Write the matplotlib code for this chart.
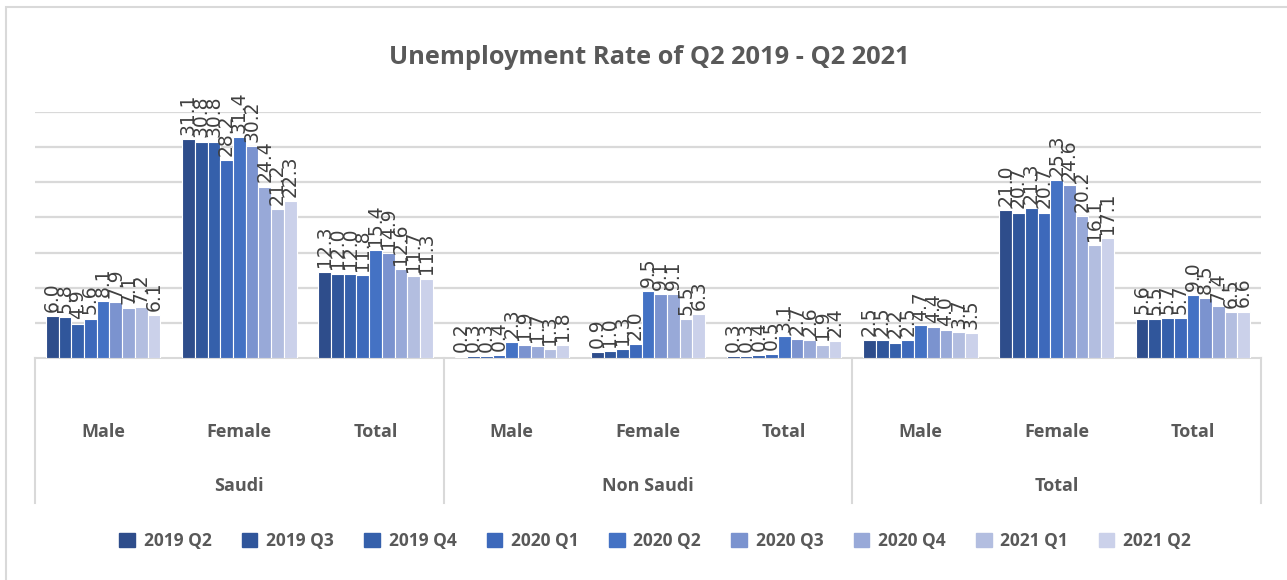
import matplotlib
matplotlib.use("Agg")
import matplotlib.pyplot as plt
from matplotlib.patches import Rectangle
import numpy as np

title = "Unemployment Rate of Q2 2019 - Q2 2021"
groups = ["Saudi", "Non Saudi", "Total"]
subcats = ["Male", "Female", "Total"]
series = ["2019 Q2", "2019 Q3", "2019 Q4", "2020 Q1", "2020 Q2",
          "2020 Q3", "2020 Q4", "2021 Q1", "2021 Q2"]
colors = ["#2E4D8B", "#30569B", "#3560AB", "#3D69BB", "#4472C4",
          "#7B93CF", "#98A9D8", "#B3BEE0", "#CBD1EA"]

# values per category (Saudi M/F/T, Non Saudi M/F/T, Total M/F/T), per series
saudi_male = [6.0, 5.8, 4.9, 5.6, 8.1, 7.9, 7.1, 7.2, 6.1]
saudi_female = [31.1, 30.8, 30.8, 28.2, 31.4, 30.2, 24.4, 21.2, 22.3]
saudi_total = [12.3, 12.0, 12.0, 11.8, 15.4, 14.9, 12.6, 11.7, 11.3]
nonsaudi_male = [0.2, 0.3, 0.3, 0.4, 2.3, 1.9, 1.7, 1.3, 1.8]
nonsaudi_female = [0.9, 1.0, 1.3, 2.0, 9.5, 9.1, 9.1, 5.5, 6.3]
nonsaudi_total = [0.3, 0.3, 0.4, 0.5, 3.1, 2.7, 2.6, 1.9, 2.4]
total_male = [2.5, 2.5, 2.2, 2.5, 4.7, 4.4, 4.0, 3.7, 3.5]
total_female = [21.0, 20.7, 21.3, 20.7, 25.3, 24.6, 20.2, 16.1, 17.1]
total_total = [5.6, 5.5, 5.7, 5.7, 9.0, 8.5, 7.4, 6.5, 6.6]

table = np.array([saudi_male, saudi_female, saudi_total,
                  nonsaudi_male, nonsaudi_female, nonsaudi_total,
                  total_male, total_female, total_total])

W, H = 1287, 580
fig = plt.figure(figsize=(W / 100, H / 100), dpi=100)
fig.patch.set_facecolor("white")

# chart border
fig.patches.append(Rectangle((6 / W, -0.02), 1.1, 1 - 7 / H + 0.02,
                             transform=fig.transFigure, fill=False,
                             edgecolor="#D9D9D9", lw=1.5))

left, right = 35 / W, 1261 / W
bottom, top = 1 - 358 / H, 1 - 112 / H
ax = fig.add_axes([left, bottom, right - left, top - bottom])
ax.set_xlim(-0.5, 8.5)
ax.set_ylim(0, 35)
for s in ["top", "right", "left"]:
    ax.spines[s].set_visible(False)
ax.spines["bottom"].set_color("#D9D9D9")
ax.spines["bottom"].set_linewidth(1.5)
ax.set_yticks(np.arange(5, 36, 5))
ax.yaxis.grid(True, color="#D9D9D9", lw=1.6)
ax.set_axisbelow(True)
ax.tick_params(left=False, labelleft=False, bottom=False, labelbottom=False)

ncat = table.shape[0]
ns = len(series)
bw = 0.84 / ns
x = np.arange(ncat)
for j in range(ns):
    xs = x - 0.42 + bw * (j + 0.5)
    ax.bar(xs, table[:, j], width=bw, color=colors[j],
           edgecolor="white", linewidth=0.8, label=series[j], zorder=3)
    for xi, v in zip(xs, table[:, j]):
        ax.annotate(f"{v:.1f}", (xi, v), xytext=(0, 3),
                    textcoords="offset points", rotation=90,
                    ha="center", va="bottom", fontsize=13.5,
                    color="#404040", family="DejaVu Sans", clip_on=False)

# multi-level category axis
tr = ax.get_xaxis_transform()
axh = 358 - 112
ybot = -(503 - 358) / axh
for b in [-0.5, 2.5, 5.5, 8.5]:
    ax.plot([b, b], [0, ybot], transform=tr, color="#D9D9D9", lw=1.5,
            clip_on=False)
y_in = -(432 - 358) / axh
y_out = -(486 - 358) / axh
for i in range(ncat):
    ax.text(i, y_in, subcats[i % 3], transform=tr, ha="center", va="center",
            fontsize=13, fontweight="bold", color="#595959", family="Open Sans")
for g, name in enumerate(groups):
    ax.text(3 * g + 1, y_out, name, transform=tr, ha="center", va="center",
            fontsize=13, fontweight="bold", color="#595959", family="Open Sans")

fig.text(649 / W, 1 - 58 / H, title, ha="center", va="center",
         fontsize=18.3, fontweight="bold", color="#595959", family="Open Sans")

handles = [Rectangle((0, 0), 1, 1, color=c) for c in colors]
fig.legend(handles, series, loc="center", bbox_to_anchor=(655 / W, 1 - 541 / H),
           ncol=9, frameon=False, handlelength=0.9, handleheight=0.9,
           handletextpad=0.5, columnspacing=1.75,
           prop={"family": "Open Sans", "weight": "bold", "size": 12.5},
           labelcolor="#595959")

fig.savefig("out.png", dpi=100, facecolor="white")
